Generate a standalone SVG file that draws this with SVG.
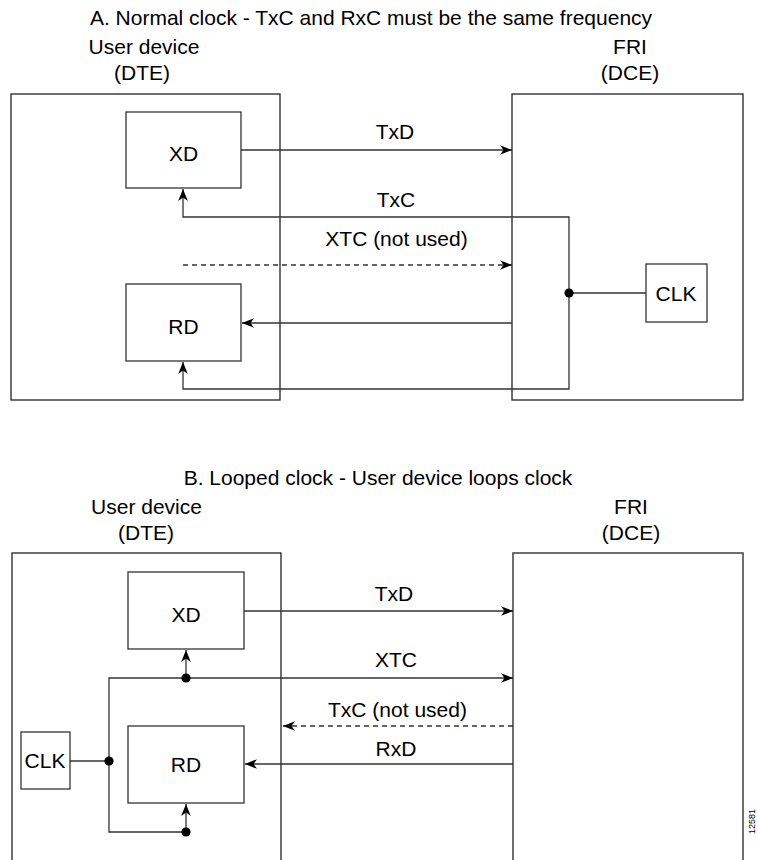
<svg xmlns="http://www.w3.org/2000/svg" width="758" height="860" viewBox="0 0 758 860">
  <style>
    text { font-family: "Liberation Sans", Arial, Helvetica, sans-serif; font-size: 21px; fill: #000; }
    .c { text-anchor: middle; }
    .fig { font-size: 9px; }
    .box { fill: #fff; stroke: #222; stroke-width: 1.3; }
    .unit { fill: #fff; stroke: #333; stroke-width: 1.3; }
    .wire { fill: none; stroke: #333; stroke-width: 1.3; }
    .dash { stroke-dasharray: 5 4; }
    .dot { fill: #000; }
  </style>
  <defs>
    <marker id="arrow" markerUnits="userSpaceOnUse" markerWidth="14" markerHeight="12" viewBox="-13 -6 14 12" refX="0" refY="0" orient="auto">
      <path d="M0,0 L-12,-4.8 L-8.5,0 L-12,4.8 Z" fill="#000"/>
    </marker>
  </defs>

  <!-- ===== A. Normal clock ===== -->
  <text class="c" x="371" y="25">A. Normal clock - TxC and RxC must be the same frequency</text>

  <g id="a-dte">
    <text class="c" x="144" y="54">User device</text>
    <text class="c" x="142" y="80">(DTE)</text>
    <rect class="box" x="11" y="94" width="269" height="306"/>
  </g>
  <g id="a-dce">
    <text class="c" x="630" y="54">FRI</text>
    <text class="c" x="630" y="80">(DCE)</text>
    <rect class="box" x="512" y="94" width="231" height="306"/>
  </g>
  <g id="a-xd">
    <rect class="unit" x="126" y="112" width="115" height="76"/>
    <text class="c" x="183.5" y="161">XD</text>
  </g>
  <g id="a-rd">
    <rect class="unit" x="126" y="284" width="115" height="77"/>
    <text class="c" x="183.5" y="334">RD</text>
  </g>
  <g id="a-clk">
    <rect class="unit" x="646" y="264" width="61" height="58"/>
    <text class="c" x="676" y="301">CLK</text>
  </g>

  <g id="a-connectors">
    <!-- TxD -->
    <line class="wire" x1="241" y1="150" x2="512" y2="150" marker-end="url(#arrow)"/>
    <text class="c" x="395" y="139">TxD</text>
    <!-- TxC feeds XD -->
    <polyline class="wire" points="569,293 569,217 183,217 183,189" marker-end="url(#arrow)"/>
    <text class="c" x="396" y="207">TxC</text>
    <!-- XTC, unused -->
    <line class="wire dash" x1="183" y1="265" x2="512" y2="265" marker-end="url(#arrow)"/>
    <text class="c" x="396.5" y="246">XTC (not used)</text>
    <!-- RxD into RD -->
    <line class="wire" x1="512" y1="323" x2="242" y2="323" marker-end="url(#arrow)"/>
    <!-- RxC feeds RD -->
    <polyline class="wire" points="569,293 569,389 183,389 183,362" marker-end="url(#arrow)"/>
    <!-- clock tap -->
    <line class="wire" x1="569" y1="293" x2="646" y2="293"/>
    <circle class="dot" cx="569" cy="293" r="4.6"/>
  </g>

  <!-- ===== B. Looped clock ===== -->
  <text class="c" x="378" y="485">B. Looped clock - User device loops clock</text>

  <g id="b-dte">
    <text class="c" x="146.5" y="514">User device</text>
    <text class="c" x="146" y="540">(DTE)</text>
    <rect class="box" x="12" y="553" width="269" height="330"/>
  </g>
  <g id="b-dce">
    <text class="c" x="631" y="514">FRI</text>
    <text class="c" x="631" y="540">(DCE)</text>
    <rect class="box" x="513" y="553" width="230" height="330"/>
  </g>
  <g id="b-xd">
    <rect class="unit" x="128" y="572" width="116" height="77"/>
    <text class="c" x="186" y="622">XD</text>
  </g>
  <g id="b-rd">
    <rect class="unit" x="128" y="726" width="116" height="77"/>
    <text class="c" x="186" y="772">RD</text>
  </g>
  <g id="b-clk">
    <rect class="unit" x="21" y="732" width="49" height="57"/>
    <text class="c" x="45" y="768">CLK</text>
  </g>

  <g id="b-connectors">
    <!-- TxD -->
    <line class="wire" x1="244" y1="611" x2="513" y2="611" marker-end="url(#arrow)"/>
    <text class="c" x="394" y="601">TxD</text>
    <!-- looped clock out as XTC -->
    <polyline class="wire" points="109,761 109,678 513,678" marker-end="url(#arrow)"/>
    <text class="c" x="396" y="667">XTC</text>
    <line class="wire" x1="186" y1="678" x2="186" y2="650" marker-end="url(#arrow)"/>
    <circle class="dot" cx="186" cy="678" r="4.6"/>
    <!-- TxC, unused -->
    <line class="wire dash" x1="513" y1="726" x2="283" y2="726" marker-end="url(#arrow)"/>
    <text class="c" x="397.5" y="717">TxC (not used)</text>
    <!-- RxD -->
    <line class="wire" x1="513" y1="764" x2="245" y2="764" marker-end="url(#arrow)"/>
    <text class="c" x="396" y="756">RxD</text>
    <!-- clock loop to RD -->
    <polyline class="wire" points="109,761 109,832 186,832"/>
    <line class="wire" x1="186" y1="832" x2="186" y2="804" marker-end="url(#arrow)"/>
    <circle class="dot" cx="186" cy="832" r="4.6"/>
    <!-- local clock -->
    <line class="wire" x1="70" y1="761" x2="109" y2="761"/>
    <circle class="dot" cx="109" cy="761" r="4.6"/>
  </g>

  <!-- figure number along the right edge -->
  <text class="fig" x="0" y="0" transform="translate(755,834) rotate(-90)">12581</text>
</svg>
